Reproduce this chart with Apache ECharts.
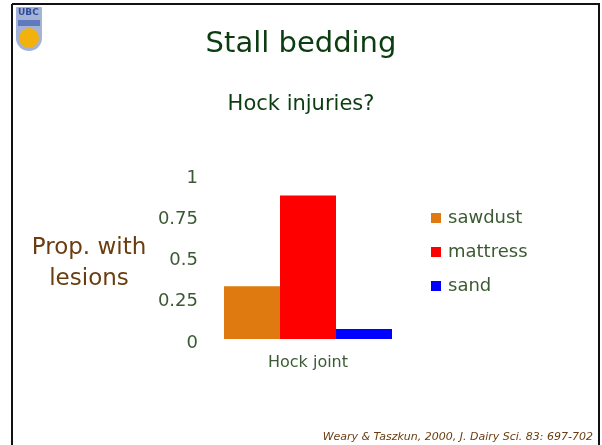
<!DOCTYPE html>
<html>
<head>
<meta charset="utf-8">
<script src="https://cdn.jsdelivr.net/npm/echarts@6/dist/echarts.min.js"></script>
<style>
  html, body { margin: 0; padding: 0; background: #fff; }
  #chart { width: 602px; height: 445px; }
</style>
</head>
<body>
<div id="chart"></div>
<script>
const categories = ['Hock joint']
const seriesNames = ['sawdust', 'mattress', 'sand']
const sawdust = [0.32]
const mattress = [0.87]
const sand = [0.06]
const yTicks = [0, 0.25, 0.5, 0.75, 1]

const textColor = '#3b5a33'
const myChart = echarts.init(document.getElementById('chart'))
const option = {
  animation: false,
  color: ['#de7a10', '#ff0000', '#0000ff'],
  title: [
    {
      text: 'Stall bedding',
      left: 'center',
      top: 25,
      textStyle: { fontFamily: 'DejaVu Sans', fontWeight: 'normal', fontSize: 29, color: '#0b3d10' }
    },
    {
      text: 'Hock injuries?',
      left: 'center',
      top: 89,
      textStyle: { fontFamily: 'DejaVu Sans', fontWeight: 'normal', fontSize: 21, color: '#0b3d10' }
    },
    {
      text: 'Prop. with\nlesions',
      left: 84,
      top: 228,
      textAlign: 'center',
      textStyle: { fontFamily: 'DejaVu Sans', fontWeight: 'normal', fontSize: 23, lineHeight: 31, color: '#6b3c0e', align: 'center' }
    },
    {
      text: 'Weary & Taszkun, 2000, J. Dairy Sci. 83: 697-702',
      right: 4,
      top: 427,
      textStyle: { fontFamily: 'DejaVu Sans', fontStyle: 'italic', fontWeight: 'normal', fontSize: 11, color: '#6b3c0e' }
    }
  ],
  graphic: [
    { type: 'line', shape: { x1: 12, y1: 4, x2: 600, y2: 4 }, style: { stroke: '#111', lineWidth: 2 } },
    { type: 'line', shape: { x1: 12, y1: 4, x2: 12, y2: 445 }, style: { stroke: '#111', lineWidth: 2 } },
    { type: 'line', shape: { x1: 599, y1: 4, x2: 599, y2: 445 }, style: { stroke: '#111', lineWidth: 2 } },
    { type: 'rect', shape: { x: 16, y: 7, width: 26, height: 44, r: [1, 1, 13, 13] }, style: { fill: '#a3b3d8' } },
    { type: 'text', style: { x: 18, y: 8, text: 'UBC', font: 'bold 9px DejaVu Sans', fill: '#2f4c96' } },
    { type: 'rect', shape: { x: 18, y: 20, width: 22, height: 6 }, style: { fill: '#5f7bbd' } },
    { type: 'circle', shape: { cx: 29, cy: 38, r: 10 }, style: { fill: '#f3b10e' } }
  ],
  legend: {
    orient: 'vertical',
    left: 426,
    top: 204,
    icon: 'rect',
    itemWidth: 10,
    itemHeight: 10,
    itemGap: 16,
    data: seriesNames,
    textStyle: { fontFamily: 'DejaVu Sans', fontSize: 18, color: textColor, padding: [0, 0, 0, 2] }
  },
  grid: {
    left: 205,
    right: 191,
    top: 174,
    bottom: 106,
    containLabel: false
  },
  xAxis: {
    type: 'category',
    data: categories,
    axisLine: { show: false },
    axisTick: { show: false },
    axisLabel: { margin: 16, fontFamily: 'DejaVu Sans', fontSize: 16, color: textColor }
  },
  yAxis: {
    type: 'value',
    min: yTicks[0],
    max: yTicks[yTicks.length - 1],
    interval: 0.25,
    axisLine: { show: false },
    axisTick: { show: false },
    splitLine: { show: false },
    axisLabel: {
      margin: 7,
      formatter: '{t|{value}}',
      rich: {
        t: { padding: [8, 0, 0, 0], fontFamily: 'DejaVu Sans', fontSize: 18, color: textColor }
      }
    }
  },
  series: [
    { name: seriesNames[0], type: 'bar', data: sawdust, barWidth: 56, barGap: '0%' },
    { name: seriesNames[1], type: 'bar', data: mattress, barWidth: 56, barGap: '0%' },
    { name: seriesNames[2], type: 'bar', data: sand, barWidth: 56, barGap: '0%' }
  ]
}
myChart.setOption(option)
</script>
</body>
</html>
